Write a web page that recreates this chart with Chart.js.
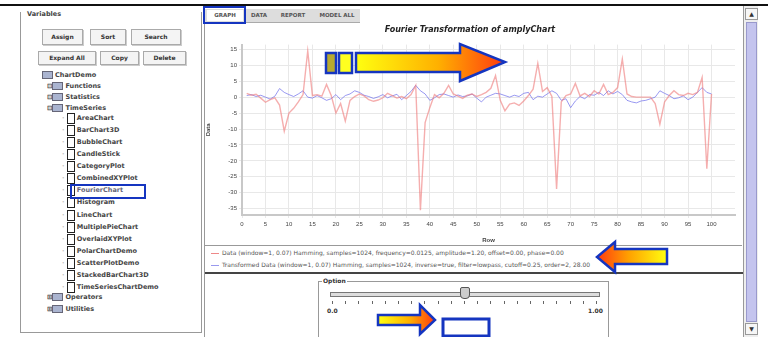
<!DOCTYPE html>
<html>
<head>
<meta charset="utf-8">
<script src="https://cdn.jsdelivr.net/npm/chart.js"></script>
<style>
  body { margin:0; width:768px; height:337px; overflow:hidden; background:#fff; position:relative;
         font-family:"DejaVu Sans", Arial, sans-serif; color:#333; }
  .abs { position:absolute; }
  .btn { position:absolute; border:1px solid #aaa; background:#f4f4f4; box-shadow:1px 1px 0 #ccc;
         font-size:6px; font-weight:bold; text-align:center; color:#333; }
  .tree { position:absolute; font-size:6.5px; font-weight:bold; color:#444; white-space:nowrap; }
  .doc { display:inline-block; width:6px; height:9px; border:1px solid #222; background:#fff; vertical-align:middle; margin-right:2px; }
  .fold { display:inline-block; width:9px; height:6px; border:1px solid #667; background:#aab4d0; vertical-align:middle; margin-right:2px; }
  .tab { position:absolute; top:10px; height:11px; font-size:5.5px; font-weight:bold; color:#555; line-height:11px; text-align:center; }
  .leg { position:absolute; left:210px; font-size:6px; color:#555; white-space:nowrap; }
</style>
</head>
<body>

<!-- top rule -->
<div class="abs" style="left:0;top:4px;width:768px;height:2px;background:#111"></div>

<!-- left panel -->
<div class="abs" style="left:20px;top:12px;width:180px;height:320px;border:1px solid #999;border-top:none"></div>
<div class="abs" style="left:27px;top:10px;font-size:6.5px;font-weight:bold;color:#444">Variables</div>
<div class="btn" style="left:42px;top:29px;width:39px;height:14px;line-height:14px">Assign</div>
<div class="btn" style="left:90px;top:29px;width:34px;height:14px;line-height:14px">Sort</div>
<div class="btn" style="left:131px;top:29px;width:48px;height:14px;line-height:14px">Search</div>
<div class="btn" style="left:38px;top:51px;width:56px;height:12px;line-height:12px">Expand All</div>
<div class="btn" style="left:100px;top:51px;width:37px;height:12px;line-height:12px">Copy</div>
<div class="btn" style="left:143px;top:51px;width:41px;height:12px;line-height:12px">Delete</div>
<div id="tree"></div>

<!-- right panel frame -->
<div class="abs" style="left:204px;top:8px;width:1px;height:329px;background:#999"></div>
<div class="abs" style="left:205px;top:9px;width:155px;height:13px;background:#ddd;border-bottom:1px solid #aaa"></div>
<div class="tab" style="left:207px;width:36px;background:#fff">GRAPH</div>
<div class="tab" style="left:247px;width:24px">DATA</div>
<div class="tab" style="left:274px;width:38px">REPORT</div>
<div class="tab" style="left:316px;width:42px">MODEL ALL</div>

<!-- chart -->
<canvas id="chart" class="abs" width="537" height="222" style="left:205px;top:22px"></canvas>

<!-- legend area -->
<div class="abs" style="left:205px;top:245px;width:537px;height:1px;background:#999"></div>
<div class="abs" style="left:211px;top:253px;width:8px;height:1px;background:#e88"></div>
<div class="leg" style="left:222px;top:249px">Data (window=1, 0.07) Hamming, samples=1024, frequency=0.0125, amplitude=1.20, offset=0.00, phase=0.00</div>
<div class="abs" style="left:211px;top:265px;width:8px;height:1px;background:#99e"></div>
<div class="leg" style="left:222px;top:261px">Transformed Data (window=1, 0.07) Hamming, samples=1024, inverse=true, filter=lowpass, cutoff=0.25, order=2, 28.00</div>
<div class="abs" style="left:205px;top:272px;width:538px;height:2px;background:#444"></div>

<!-- slider panel -->
<div class="abs" style="left:318px;top:281px;width:289px;height:60px;border:1px solid #999"></div>
<div class="abs" style="left:322px;top:277px;font-size:6px;font-weight:bold;background:#fff;padding:0 1px">Option</div>
<div class="abs" style="left:330px;top:292px;width:268px;height:3px;border:1px solid #777;background:#ddd"></div>
<div class="abs" style="left:460px;top:287px;width:8px;height:10px;border:1px solid #555;background:#ccc;border-radius:2px 2px 4px 4px"></div>
<div id="ticks"></div>
<div class="abs" style="left:327px;top:307px;font-size:6px;font-weight:bold">0.0</div>
<div class="abs" style="left:588px;top:307px;font-size:6px;font-weight:bold">1.00</div>

<!-- scrollbar -->
<div class="abs" style="left:743px;top:6px;width:14px;height:331px;border-left:1px solid #999;background:#eee"></div>
<div class="abs" style="left:745px;top:8px;width:11px;height:10px;border:1px solid #999;background:#f6f6f6;font-size:6px;text-align:center;line-height:10px">&#9650;</div>
<div class="abs" style="left:746px;top:22px;width:9px;height:298px;border:1px solid #99c;background:#c4c4ee"></div>
<div class="abs" style="left:745px;top:323px;width:11px;height:10px;border:1px solid #999;background:#f6f6f6;font-size:6px;text-align:center;line-height:10px">&#9660;</div>

<!-- annotation overlay -->
<svg class="abs" style="left:0;top:0" width="768" height="337">
  <defs>
    <linearGradient id="gr" x1="0" x2="1" y1="0" y2="0">
      <stop offset="0" stop-color="#ffff10"/>
      <stop offset="0.55" stop-color="#ffb000"/>
      <stop offset="1" stop-color="#ff3a10"/>
    </linearGradient>
    <linearGradient id="gl" x1="1" x2="0" y1="0" y2="0">
      <stop offset="0" stop-color="#ffff10"/>
      <stop offset="0.55" stop-color="#ffa000"/>
      <stop offset="1" stop-color="#ff3a10"/>
    </linearGradient>
  </defs>
  <!-- selected tab / tree item -->
  <rect x="204" y="7" width="41" height="16" fill="none" stroke="#1535c0" stroke-width="2"/>
  <rect x="71" y="185" width="74" height="13" fill="none" stroke="#1535c0" stroke-width="2"/>
  <!-- big arrow with boxes -->
  <rect x="326" y="53" width="10" height="20" fill="#b8aa30" stroke="#1535c0" stroke-width="2.5"/>
  <rect x="339" y="53" width="13" height="20" fill="#ffff20" stroke="#1535c0" stroke-width="2.5"/>
  <path d="M356 53 L460 53 L460 44 L505 62 L460 81 L460 72 L356 72 Z" fill="url(#gr)" stroke="#1535c0" stroke-width="2.5" stroke-linejoin="miter"/>
  <!-- left arrow in legend -->
  <path d="M667 249 L615 249 L615 242 L597 257 L615 272 L615 264 L667 264 Z" fill="url(#gl)" stroke="#1535c0" stroke-width="2.5"/>
  <!-- small arrow and box at bottom -->
  <path d="M378 315 L420 315 L420 305 L435 320 L420 334 L420 325 L378 325 Z" fill="url(#gr)" stroke="#1535c0" stroke-width="2.5"/>
  <rect x="443" y="319" width="46" height="17" fill="#fff" stroke="#1535c0" stroke-width="3"/>
</svg>

<script>
// row numbers (x)
const rows = [
  1,2,3,4,5,6,7,8,9,10,11,12,13,14,15,16,17,18,19,20,
  21,22,23,24,25,26,27,28,29,30,31,32,33,34,35,36,37,38,39,40,
  41,42,43,44,45,46,47,48,49,50,51,52,53,54,55,56,57,58,59,60,
  61,62,63,64,65,66,67,68,69,70,71,72,73,74,75,76,77,78,79,80,
  81,82,83,84,85,86,87,88,89,90,91,92,93,94,95,96,97,98,99,100
];

// original data (red)
const dataValues = [
  1.2, 0.6, 0.9, -0.3, -1.6, -0.8, -0.2, -2.5, -10.7, -5.0,
  -3.5, -1.5, 0.8, 14.5, 0.5, 0.8, 0.3, 4.0, 0.5, -5.0,
  -2.0, -7.5, -1.0, 0.2, 1.0, 0.4, -0.8, -1.3, -0.9, -0.2,
  1.2, 0.5, -0.3, 0.2, -0.5, 0.8, 3.7, -35.5, -8.0, -3.3,
  0.8, -0.2, 1.2, 3.7, 1.0, 0.3, -0.4, 0.6, 1.0, 0.2,
  0.8, 1.5, 2.8, 6.8, -1.0, -4.3, -2.2, -1.8, -2.6, -1.2,
  0.5, 2.5, 10.6, 1.8, 3.0, 0.2, -28.8, -1.5, 0.5, 1.0,
  4.3, 0.4, 1.2, 0.2, 2.0, 1.0, 4.0, 0.8, 1.5, 3.0,
  12.0, 1.0, 0.2, 0.0, 0.0, 0.0, 0.0, -2.0, -8.5, -1.5,
  0.5, 2.0, 0.8, 0.5, 1.2, 0.8, 1.5, 6.2, -22.5, 1.0
];

// transformed data (blue)
const transValues = [
  0.5, 0.8, 0.2, 0.6, 0.0, -0.6, 0.3, 2.7, 1.5, 0.8,
  0.2, 1.0, 2.0, 0.0, -0.3, 0.5, -0.2, -1.0, -0.5, 0.8,
  -0.8, 0.5, 1.0, 2.0, 1.5, 0.6, 0.2, -0.4, 0.1, 0.8,
  -0.2, 0.4, 0.9, -0.8, 0.5, 1.8, 3.7, 2.0, 1.0, -1.0,
  -0.2, 0.8, 1.0, 0.5, 0.0, 0.7, 0.2, 0.4, 1.0, -0.3,
  -1.5, 0.0, 0.6, 1.2, 1.0, 0.5, 0.0, 0.6, 0.2, 1.2,
  1.5, -0.8, 0.3, 0.0, 1.0, 2.0, 1.2, -1.0, -0.5, -3.3,
  -1.2, 0.2, -0.5, 0.8, 0.6, 1.5, 0.5, 2.0, 1.0, 1.8,
  0.8, -1.0, -1.5, -1.8, -1.2, -1.0, -0.5, 0.0, 2.0, 1.2,
  0.5, -0.5, -0.2, 0.4, -0.8, 0.0, 1.5, 3.0, 1.5, 1.0
];

const yTicks = [15, 10, 5, 0, -5, -10, -15, -20, -25, -30, -35];
const xTicks = [0, 5, 10, 15, 20, 25, 30, 35, 40, 45, 50, 55, 60, 65, 70, 75, 80, 85, 90, 95, 100];

const treeNames = ['AreaChart', 'BarChart3D', 'BubbleChart', 'CandleStick', 'CategoryPlot',
  'CombinedXYPlot', 'FourierChart', 'Histogram', 'LineChart', 'MultiplePieChart',
  'OverlaidXYPlot', 'PolarChartDemo', 'ScatterPlotDemo', 'StackedBarChart3D', 'TimeSeriesChartDemo'];
const folderNames = ['ChartDemo', 'Functions', 'Statistics', 'TimeSeries'];
const bottomNames = ['Operators', 'Utilities'];

// tree
let tree = document.getElementById('tree');
let html = '<div class="tree" style="left:42px;top:71px"><span class="fold"></span>' + folderNames[0] + '</div>';
for (let i = 1; i < folderNames.length; i++) {
  html += '<div class="tree" style="left:47px;top:' + (71 + i * 11) + 'px">&#8863;<span class="fold"></span>' + folderNames[i] + '</div>';
}
treeNames.forEach(function (n, i) {
  let top = 113 + i * 12.07;
  html += '<div class="tree" style="left:62px;top:' + top + 'px;color:' + (i == 6 ? '#667' : '#444') + '">' +
    '<span style="color:#bbb">&#183;</span> <span class="doc"></span>' + n + '</div>';
});
bottomNames.forEach(function (n, i) {
  html += '<div class="tree" style="left:47px;top:' + (293 + i * 12) + 'px">&#8862;<span class="fold"></span>' + n + '</div>';
});
tree.innerHTML = html;

// slider ticks
let th = '';
for (let i = 0; i <= 20; i++) {
  th += '<div class="abs" style="left:' + (332 + i * 13.2) + 'px;top:301px;width:1px;height:3px;background:#666"></div>';
}
document.getElementById('ticks').innerHTML = th;

new Chart(document.getElementById('chart'), {
  type: 'line',
  data: {
    datasets: [
      {
        label: 'Data',
        data: rows.map((r, i) => ({ x: r, y: dataValues[i] })),
        borderColor: 'rgba(238,120,120,0.6)',
        borderWidth: 1.4,
        pointRadius: 0,
        tension: 0
      },
      {
        label: 'Transformed Data',
        data: rows.map((r, i) => ({ x: r, y: transValues[i] })),
        borderColor: 'rgba(110,110,235,0.7)',
        borderWidth: 1,
        pointRadius: 0,
        tension: 0
      }
    ]
  },
  options: {
    responsive: false,
    animation: false,
    layout: { padding: { left: 0, right: 7, top: 0, bottom: 0 } },
    plugins: {
      legend: { display: false },
      tooltip: { enabled: false },
      title: {
        display: true,
        text: 'Fourier Transformation of amplyChart',
        color: '#222',
        font: { size: 8, weight: 'bold', style: 'italic', family: 'DejaVu Sans' },
        padding: { top: 3, bottom: 10 }
      }
    },
    scales: {
      x: {
        type: 'linear',
        min: 0,
        max: 105,
        afterBuildTicks: s => { s.ticks = xTicks.map(v => ({ value: v })); },
        afterFit: s => { s.height = 29; },
        ticks: { font: { size: 6 }, color: '#444', padding: 3, maxRotation: 0 },
        grid: { color: '#e8e8e8', tickLength: 3 },
        border: { color: '#c8c8c8', width: 2 },
        title: { display: true, text: 'Row', font: { size: 6, weight: 'bold' }, color: '#444', padding: 0 }
      },
      y: {
        min: -37,
        max: 16.5,
        afterBuildTicks: s => { s.ticks = yTicks.map(v => ({ value: v })); },
        afterFit: s => { s.width = 37; },
        ticks: { font: { size: 6 }, color: '#444', padding: 2 },
        grid: { color: '#e8e8e8', tickLength: 3 },
        border: { color: '#c8c8c8', width: 2 },
        title: { display: true, text: 'Data', font: { size: 6, weight: 'bold' }, color: '#444', padding: 0 }
      }
    }
  }
});
</script>
</body>
</html>
